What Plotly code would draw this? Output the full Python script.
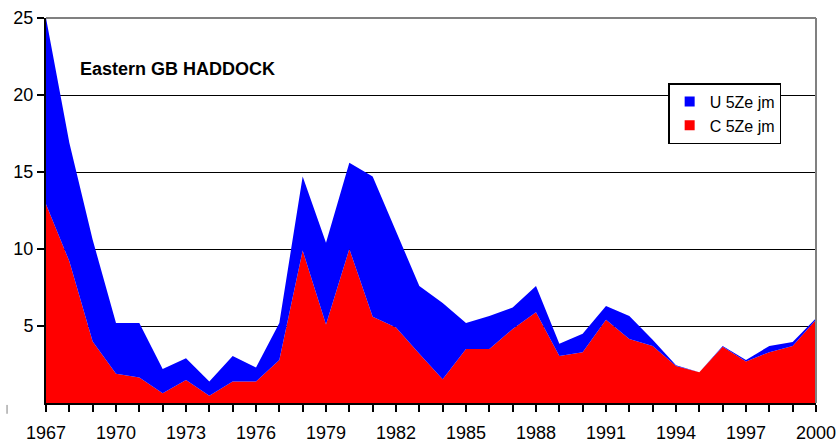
import plotly.graph_objects as go

years = list(range(1967, 2001))
c_5ze = [12.9, 9.2, 4.0, 1.9, 1.65, 0.63, 1.5, 0.47, 1.4, 1.4, 2.8, 9.9,
         5.1, 10.0, 5.6, 4.9, 3.2, 1.55, 3.5, 3.5, 4.8, 5.9, 3.05, 3.3,
         5.4, 4.15, 3.7, 2.4, 2.0, 3.65, 2.7, 3.3, 3.7, 5.4]
u_5ze = [12.1, 7.7, 6.6, 3.3, 3.55, 1.57, 1.4, 0.93, 1.65, 0.9, 2.4, 4.8,
         5.3, 5.6, 9.1, 6.2, 4.4, 4.95, 1.7, 2.15, 1.4, 1.7, 0.8, 1.2,
         0.9, 1.5, 0.4, 0.05, 0.0, 0.05, 0.1, 0.4, 0.26, 0.1]
x_tick_labels = [str(y) if (y - 1967) % 3 == 0 else "" for y in years]
y_ticks = [5, 10, 15, 20, 25]
title_text = "Eastern GB HADDOCK"
u_name = "U 5Ze jm"
c_name = "C 5Ze jm"

RED = "#FF0000"
BLUE = "#0000FF"
FONT = "Liberation Sans, Arial, sans-serif"

fig = go.Figure()
fig.add_trace(go.Scatter(x=years, y=c_5ze, mode="lines", stackgroup="one",
                         line=dict(width=0, color=RED), fillcolor=RED,
                         showlegend=False, hoverinfo="skip"))
fig.add_trace(go.Scatter(x=years, y=u_5ze, mode="lines", stackgroup="one",
                         line=dict(width=0, color=BLUE), fillcolor=BLUE,
                         showlegend=False, hoverinfo="skip"))
# legend entries
fig.add_trace(go.Scatter(x=[None], y=[None], mode="markers", name=u_name,
                         marker=dict(symbol="square", size=10, color=BLUE)))
fig.add_trace(go.Scatter(x=[None], y=[None], mode="markers", name=c_name,
                         marker=dict(symbol="square", size=10, color=RED)))

fig.update_layout(
    template="none",
    width=840, height=443,
    margin=dict(l=46, r=24, t=18, b=40, autoexpand=False),
    paper_bgcolor="white", plot_bgcolor="white",
    font=dict(family=FONT, size=18, color="black"),
    showlegend=True,
    legend=dict(x=0.808, y=0.831, xanchor="left", yanchor="top",
                bgcolor="white", bordercolor="black", borderwidth=1.5,
                font=dict(family=FONT, size=16, color="black"),
                itemwidth=30, tracegroupgap=0, traceorder="normal"),
    xaxis=dict(range=[1967, 2000], tickmode="array", tickvals=years,
               ticktext=x_tick_labels, tickangle=0, automargin=False,
               ticks="outside", ticklen=7, tickwidth=2, tickcolor="black",
               showgrid=False, zeroline=False,
               showline=True, linecolor="black", linewidth=2,
               tickfont=dict(family=FONT, size=18), ticklabelstandoff=5),
    yaxis=dict(range=[0, 25], tickmode="array", tickvals=y_ticks,
               automargin=False,
               ticks="outside", ticklen=7, tickwidth=2, tickcolor="black",
               showgrid=True, gridcolor="black", gridwidth=1,
               zeroline=False, showline=True, linecolor="black", linewidth=2,
               tickfont=dict(family=FONT, size=18)),
)

# grey top/right frame
fig.add_shape(type="line", xref="paper", yref="paper", x0=0, x1=1, y0=1, y1=1,
              line=dict(color="#808080", width=2))
fig.add_shape(type="line", xref="paper", yref="paper", x0=1, x1=1, y0=0, y1=1,
              line=dict(color="#808080", width=2))
# small stray mark at bottom left
fig.add_shape(type="line", xref="paper", yref="paper", x0=-0.0506, x1=-0.0506,
              y0=-0.005, y1=-0.028, line=dict(color="#808080", width=1))

fig.add_annotation(text="<b>" + title_text + "</b>", xref="paper", yref="paper",
                   x=0.0416, y=0.867, xanchor="left", yanchor="middle",
                   showarrow=False, font=dict(family=FONT, size=18, color="black"))

fig.write_html("out.html",
               config={"displayModeBar": False, "staticPlot": True},
               post_script="document.body.style.margin='0';document.body.style.padding='0';document.body.style.overflow='hidden';")
